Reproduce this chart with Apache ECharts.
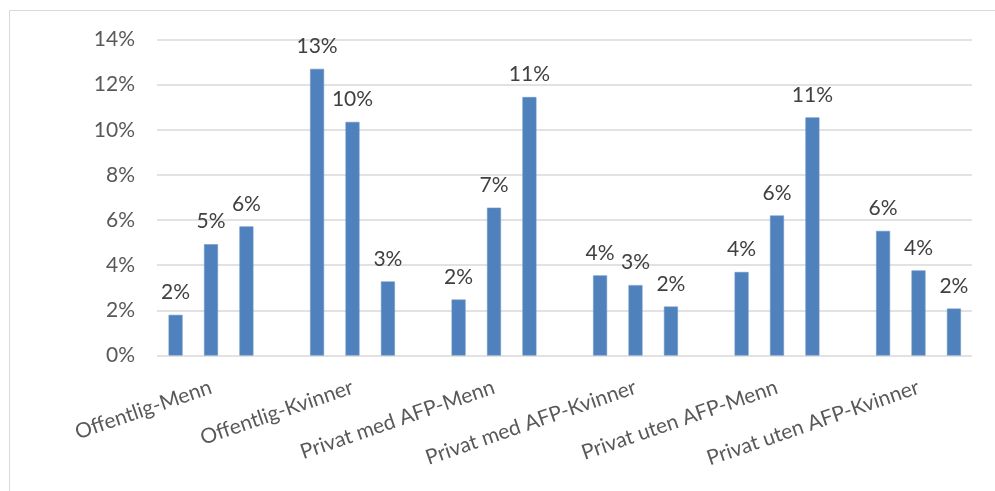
<!DOCTYPE html>
<html>
<head>
<meta charset="utf-8">
<script src="https://cdn.jsdelivr.net/npm/echarts@6/dist/echarts.min.js"></script>
<style>
html,body{margin:0;padding:0;background:#fff;}
#chart{width:995px;height:491px;}
</style>
</head>
<body>
<div id="chart"></div>
<script>
const categories = ['Offentlig-Menn','Offentlig-Kvinner','Privat med AFP-Menn','Privat med AFP-Kvinner','Privat uten AFP-Menn','Privat uten AFP-Kvinner'];
const series1 = [1.8, 12.7, 2.48, 3.55, 3.7, 5.52];
const series2 = [4.93, 10.35, 6.55, 3.12, 6.2, 3.77];
const series3 = [5.72, 3.28, 11.45, 2.17, 10.55, 2.08];
const yTicks = [0, 2, 4, 6, 8, 10, 12, 14];

const FONT = 'Lato';
const chart = echarts.init(document.getElementById('chart'), null, {renderer:'canvas'});
const barColor = '#4F81BD';
function mk(data){
  return {
    type:'bar', xAxisIndex:1, yAxisIndex:1, data:data,
    barWidth:14, barGap:'153%',
    itemStyle:{color:barColor, borderColor:'#6a95c8', borderWidth:0.6},
    label:{show:true, position:'top', distance:12, color:'#404040', fontFamily:FONT, fontSize:21,
      formatter:p=>Math.round(p.value)+'%'}
  };
}
chart.setOption({
  animation:false,
  backgroundColor:'#fff',
  graphic:[{type:'rect', shape:{x:9.5,y:10.5,width:2000,height:2000}, style:{fill:'none', stroke:'#d9d9d9', lineWidth:1}, silent:true}],
  grid:[
    {left:157, right:23, top:39.5, bottom:135.5},
    {left:140.25, right:5.75, top:39.5, bottom:135.5}
  ],
  xAxis:[
    {gridIndex:0, type:'category', data:categories, show:false},
    {gridIndex:1, type:'category', data:categories,
     axisLine:{show:false}, axisTick:{show:false},
     axisLabel:{interval:0, rotate:19, margin:31, color:'#595959', fontFamily:FONT, fontSize:21}}
  ],
  yAxis:[
    {gridIndex:0, type:'value', min:yTicks[0], max:yTicks[yTicks.length-1], interval:2,
     axisLine:{show:false}, axisTick:{show:false},
     axisLabel:{margin:22, color:'#595959', fontFamily:FONT, fontSize:21, formatter:'{value}%'},
     splitLine:{lineStyle:{color:'#d9d9d9', width:1.5}}},
    {gridIndex:1, type:'value', min:yTicks[0], max:yTicks[yTicks.length-1], interval:2, show:false,
     splitLine:{show:false}}
  ],
  series:[mk(series1), mk(series2), mk(series3)]
});
</script>
</body>
</html>
